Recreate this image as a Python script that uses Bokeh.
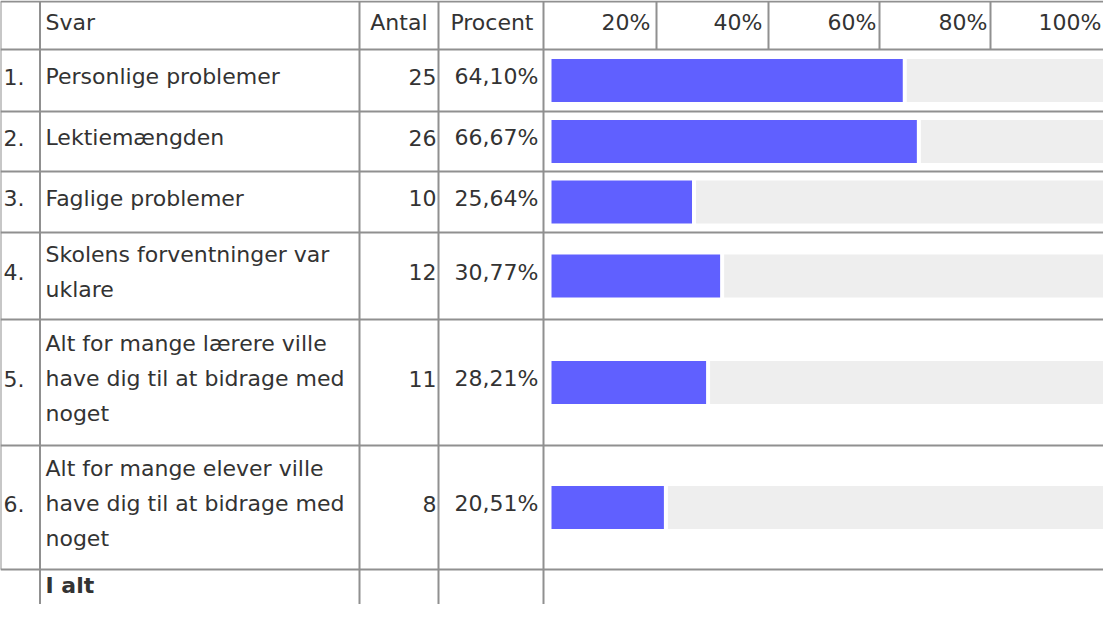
from bokeh.plotting import figure
from bokeh.models import Range1d
from bokeh.embed import file_html
from bokeh.resources import INLINE
from bokeh.core.properties import value

# ---------------- data ----------------
numbers = ["1.", "2.", "3.", "4.", "5.", "6."]
answers = [
    "Personlige problemer",
    "Lektiemængden",
    "Faglige problemer",
    "Skolens forventninger var\nuklare",
    "Alt for mange lærere ville\nhave dig til at bidrage med\nnoget",
    "Alt for mange elever ville\nhave dig til at bidrage med\nnoget",
]
counts = [25, 26, 10, 12, 11, 8]
percents = [64.10, 66.67, 25.64, 30.77, 28.21, 20.51]
headers = ["Svar", "Antal", "Procent"]
scale_labels = ["20%", "40%", "60%", "80%", "100%"]
total_label = "I alt"

# ---------------- layout (page pixels) ----------------
W, H = 1103, 604
X0, Y0 = 8, 8
FONT = value("DejaVu Sans")
TXT = "#333333"
LINE = "#909090"
BLUE = "#6060ff"
TRACK = "#eeeeee"

row_edges = [9, 57, 119, 179, 240, 327, 453, 577]
x_left, x_num, x_svar, x_antal, x_proc, x_right = 8, 47.5, 367, 446, 551, 1119
hdr_seps = [664, 776, 887, 998]
hdr_label_right = [658, 770, 884, 995, 1109]
bottom = Y0 + H

p = figure(width=W, height=H, x_range=Range1d(X0, X0 + W), y_range=Range1d(bottom, Y0),
           output_backend="svg", toolbar_location=None, min_border=0,
           x_axis_location=None, y_axis_location=None)
p.grid.visible = False
p.outline_line_color = None
p.background_fill_color = "white"
p.border_fill_color = "white"

# percentage scale for the bars: 0% at px 559, 100% at px 1107
ppp = (1107 - 559) / 100.0
s = -(559 - X0) / ppp
p.extra_x_ranges = {"pct": Range1d(s, s + W / ppp)}

centers = [(row_edges[i] + row_edges[i + 1]) / 2 for i in range(1, len(row_edges) - 1)]
bar_h = 43
gap = 4 / ppp
track_end = 100 + 5 / ppp

# bars
p.quad(left=[0] * len(percents), right=percents,
       top=[c - bar_h / 2 for c in centers], bottom=[c + bar_h / 2 for c in centers],
       x_range_name="pct", fill_color=BLUE, line_color=None)
p.quad(left=[v + gap for v in percents], right=[track_end] * len(percents),
       top=[c - bar_h / 2 for c in centers], bottom=[c + bar_h / 2 for c in centers],
       x_range_name="pct", fill_color=TRACK, line_color=None)

# horizontal lines
p.segment(x0=[x_left] * len(row_edges), x1=[x_right] * len(row_edges),
          y0=row_edges, y1=row_edges, line_color=LINE, line_width=2)
# vertical lines
p.segment(x0=[x_left], x1=[x_left], y0=[row_edges[0]], y1=[row_edges[-1]], line_color=LINE, line_width=2)
vx = [x_num, x_svar, x_antal, x_proc]
p.segment(x0=vx, x1=vx, y0=[row_edges[0]] * 4, y1=[bottom] * 4, line_color=LINE, line_width=2)
p.segment(x0=hdr_seps, x1=hdr_seps, y0=[row_edges[0]] * 4, y1=[row_edges[1]] * 4,
          line_color=LINE, line_width=2)

dy = -4
hc = (row_edges[0] + row_edges[1]) / 2 - 3
common = dict(text_font=FONT, text_font_size="22px", text_color=TXT, text_baseline="middle",
              text_line_height=1.41)

# header
p.text(x=[53], y=[hc], text=[headers[0]], text_align="left", **common)
p.text(x=[435], y=[hc], text=[headers[1]], text_align="right", **common)
p.text(x=[541], y=[hc], text=[headers[2]], text_align="right", **common)
p.text(x=hdr_label_right, y=[hc] * 5, text=scale_labels, text_align="right", **common)

ys = [c + dy for c in centers]
p.text(x=[11] * 6, y=ys, text=numbers, text_align="left", **common)
p.text(x=[53] * 6, y=ys, text=answers, text_align="left", **common)
p.text(x=[444] * 6, y=ys, text=[str(c) for c in counts], text_align="right", **common)
p.text(x=[546] * 6, y=ys, text=[f"{v:.2f}%".replace(".", ",") for v in percents],
       text_align="right", **common)

# total row
p.text(x=[53], y=[597 + dy], text=[total_label], text_align="left", text_font_style="bold", **common)

open("out.html", "w").write(file_html(p, INLINE))
